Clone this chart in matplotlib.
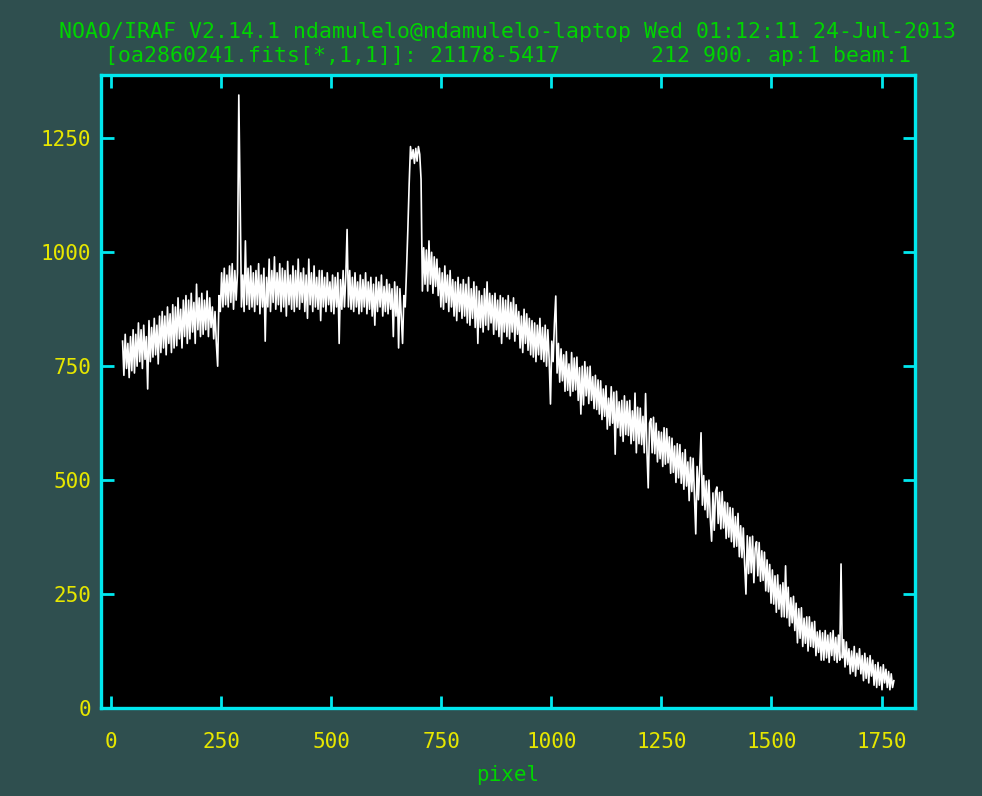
import numpy as np
import matplotlib
matplotlib.use("Agg")
import matplotlib.pyplot as plt

# splot of oa2860241.fits, one flux value every 3 pixels starting at pixel 26
start_pix = 26
step_pix = 3
flux = [
    805, 730, 820, 745, 800, 725, 815, 740, 830, 735,
    820, 750, 845, 760, 830, 745, 840, 765, 815, 700,
    850, 760, 835, 770, 855, 775, 840, 755, 860, 780,
    870, 790, 860, 775, 880, 800, 865, 780, 885, 790,
    880, 795, 900, 810, 875, 790, 895, 815, 905, 800,
    895, 810, 910, 825, 890, 800, 930, 830, 900, 815,
    910, 820, 895, 830, 915, 815, 900, 835, 880, 810,
    870, 800, 750, 905, 870, 955, 880, 965, 885, 950,
    880, 970, 890, 975, 875, 960, 895, 955, 1345, 1124,
    880, 950, 870, 1025, 885, 965, 875, 970, 880, 955,
    870, 960, 885, 975, 865, 950, 880, 965, 805, 945,
    880, 985, 870, 960, 890, 990, 875, 955, 885, 975,
    870, 965, 880, 960, 860, 980, 885, 950, 875, 970,
    870, 960, 880, 985, 875, 955, 890, 965, 870, 950,
    855, 985, 885, 955, 870, 970, 880, 945, 875, 960,
    850, 960, 880, 945, 870, 955, 885, 935, 870, 950,
    865, 945, 880, 955, 800, 940, 875, 960, 880, 945,
    1050, 880, 960, 875, 945, 870, 955, 880, 935, 865,
    950, 870, 940, 880, 955, 865, 935, 875, 945, 860,
    930, 840, 945, 870, 935, 880, 950, 860, 925, 870,
    940, 865, 930, 875, 920, 815, 935, 860, 925, 790,
    920, 860, 800, 905, 880, 960, 1050, 1150, 1232, 1205,
    1225, 1195, 1228, 1200, 1232, 1215, 1160, 915, 1010, 930,
    1005, 915, 1025, 930, 1000, 910, 990, 925, 985, 905,
    965, 880, 955, 875, 970, 890, 950, 870, 960, 880,
    940, 860, 935, 850, 945, 870, 930, 855, 940, 860,
    930, 845, 945, 840, 920, 855, 935, 835, 925, 800,
    915, 835, 905, 825, 920, 840, 935, 830, 910, 845,
    905, 820, 910, 830, 895, 815, 905, 800, 900, 825,
    895, 815, 905, 810, 890, 825, 900, 805, 885, 820,
    870, 790, 860, 780, 875, 800, 865, 785, 855, 775,
    850, 770, 845, 760, 840, 775, 855, 765, 835, 760,
    840, 750, 830, 765, 667, 805, 760, 845, 904, 735,
    800, 715, 788, 718, 775, 695, 782, 697, 755, 685,
    780, 695, 768, 698, 770, 675, 747, 645, 750, 665,
    760, 685, 748, 668, 750, 675, 727, 657, 730, 655,
    720, 645, 718, 633, 700, 640, 707, 612, 680, 620,
    705, 625, 693, 557, 695, 615, 672, 597, 675, 585,
    685, 600, 673, 598, 675, 580, 652, 587, 691, 560,
    660, 580, 658, 578, 640, 560, 690, 567, 483, 625,
    635, 560, 638, 558, 625, 540, 607, 547, 605, 530,
    615, 535, 613, 538, 595, 515, 592, 517, 575, 495,
    580, 505, 578, 493, 560, 480, 567, 487, 540, 455,
    550, 475, 548, 463, 382, 530, 457, 527, 604, 445,
    510, 435, 498, 418, 500, 415, 366, 472, 390, 475,
    485, 405, 473, 393, 475, 395, 452, 372, 450, 375,
    440, 365, 438, 353, 420, 355, 427, 332, 400, 330,
    395, 315, 250, 378, 295, 375, 297, 377, 275, 350,
    365, 290, 363, 278, 345, 280, 342, 257, 325, 255,
    315, 230, 303, 228, 290, 210, 292, 217, 270, 200,
    275, 200, 312, 198, 265, 180, 242, 187, 245, 170,
    230, 143, 218, 153, 220, 135, 197, 142, 200, 125,
    200, 135, 188, 133, 190, 115, 167, 122, 170, 105,
    165, 105, 170, 110, 160, 100, 165, 115, 170, 105,
    155, 100, 160, 105, 316, 110, 150, 90, 145, 95,
    130, 75, 125, 80, 135, 70, 120, 85, 130, 75,
    115, 60, 120, 65, 110, 55, 115, 70, 105, 50,
    95, 45, 100, 50, 90, 40, 95, 55, 85, 45,
    80, 40, 75, 45, 60,
]
pixel = start_pix + step_pix * np.arange(len(flux))

xticks = [0, 250, 500, 750, 1000, 1250, 1500, 1750]
yticks = [0, 250, 500, 750, 1000, 1250]

title1 = "NOAO/IRAF V2.14.1 ndamulelo@ndamulelo-laptop Wed 01:12:11 24-Jul-2013"
title2 = "[oa2860241.fits[*,1,1]]: 21178-5417       212 900. ap:1 beam:1"

bg = "#2f4f4f"
cyan = "#00e8ee"
yellow = "#e6e600"
green = "#00d400"
mono = "DejaVu Sans Mono"

fig = plt.figure(figsize=(9.82, 7.96), dpi=100, facecolor=bg)
ax = fig.add_axes([101 / 982, 88 / 796, 814 / 982, 633 / 796])
ax.set_facecolor("black")

ax.plot(pixel, flux, color="white", lw=1.2)

ax.set_xlim(-23, 1826)
ax.set_ylim(0, 1389)
ax.set_xticks(xticks)
ax.set_yticks(yticks)

for sp in ax.spines.values():
    sp.set_color(cyan)
    sp.set_linewidth(2.4)
ax.tick_params(direction="in", length=9, width=2, color=cyan,
               top=True, right=True, labelsize=15, labelcolor=yellow)
ax.tick_params(axis="x", pad=17)
ax.tick_params(axis="y", pad=7)
for lab in ax.get_xticklabels() + ax.get_yticklabels():
    lab.set_family(mono)

fig.text(0.517, 1 - 32 / 796, title1, color=green, family=mono,
         fontsize=15.5, ha="center", va="center")
fig.text(0.517, 1 - 56 / 796, title2, color=green, family=mono,
         fontsize=15.5, ha="center", va="center")
fig.text(508 / 982, 1 - 775 / 796, "pixel", color=green, family=mono,
         fontsize=15, ha="center", va="center")

fig.savefig("out.png", dpi=100, facecolor=bg)
